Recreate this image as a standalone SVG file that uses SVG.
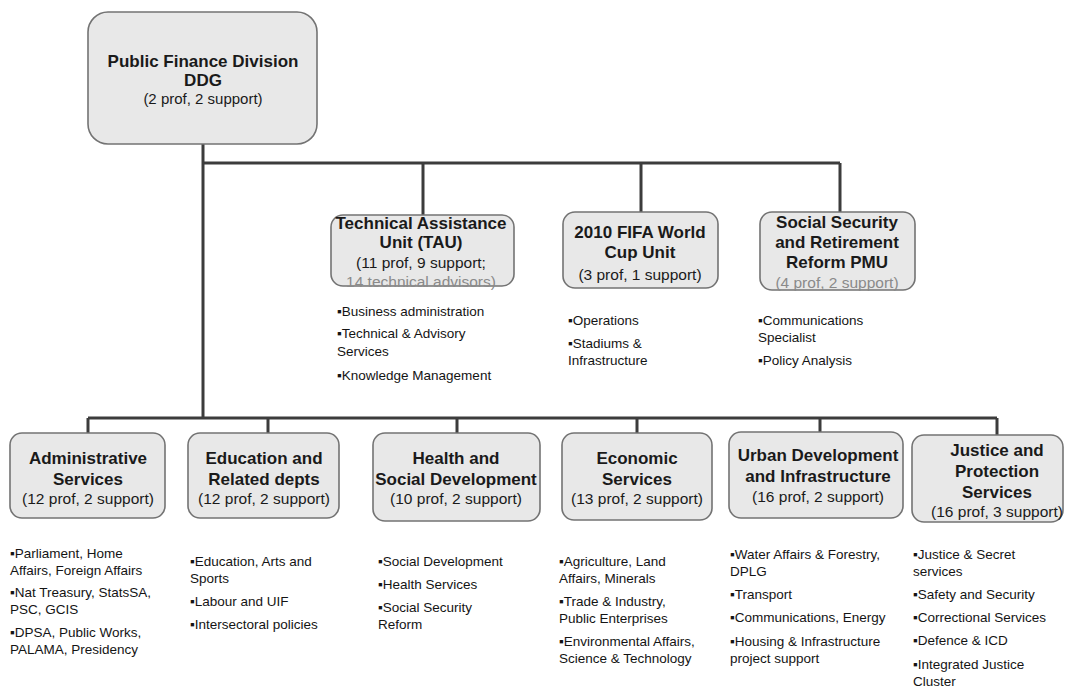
<svg xmlns="http://www.w3.org/2000/svg" width="1065" height="690" viewBox="0 0 1065 690">
<style>
.box{fill:#e8e8e8;stroke:#737373;stroke-width:1.6}
.t{font-family:"Liberation Sans",Arial,sans-serif;font-size:17px;font-weight:bold;fill:#1a1a1a;text-anchor:middle}
.s{font-family:"Liberation Sans",Arial,sans-serif;font-size:15.5px;fill:#1a1a1a;text-anchor:middle}
.g{fill:#8a8a8a}
.b{font-family:"Liberation Sans",Arial,sans-serif;font-size:13.5px;fill:#141414}
.c{fill:none;stroke:#3c3c3c;stroke-width:3}
</style>
<rect width="1065" height="690" fill="#ffffff"/>
<g id="connectors">
<path class="c" d="M203 144V418"/>
<path class="c" d="M203 163H840"/>
<path class="c" d="M423 163V215M641 163V212M840 163V212"/>
<path class="c" d="M88 418H997"/>
<path class="c" d="M88 418V433M268 418V433M457 418V433M637 418V433M820 418V432M997 418V435"/>
</g>
<g id="pfd">
<rect class="box" x="88" y="12" width="229" height="132" rx="20"/>
<text class="t" x="203" y="67">Public Finance Division</text>
<text class="t" x="203" y="86">DDG</text>
<text class="s" x="203" y="104" style="font-size:15px">(2 prof, 2 support)</text>
</g>
<g id="tau">
<rect class="box" x="331" y="215" width="183" height="71" rx="12"/>
<text class="t" x="421" y="229">Technical Assistance</text>
<text class="t" x="421" y="248">Unit (TAU)</text>
<text class="s" x="421" y="268">(11 prof, 9 support;</text>
<text class="s g" x="421" y="287">14 technical advisors)</text>
<text class="b" x="337" y="316">▪Business administration</text>
<text class="b" x="337" y="338">▪Technical &amp; Advisory</text>
<text class="b" x="337" y="356">Services</text>
<text class="b" x="337" y="380">▪Knowledge Management</text>
</g>
<g id="fifa">
<rect class="box" x="563" y="212" width="155" height="76" rx="12"/>
<text class="t" x="640" y="238">2010 FIFA World</text>
<text class="t" x="640" y="258">Cup Unit</text>
<text class="s" x="640" y="280">(3 prof, 1 support)</text>
<text class="b" x="568" y="325">▪Operations</text>
<text class="b" x="568" y="348">▪Stadiums &amp;</text>
<text class="b" x="568" y="365">Infrastructure</text>
</g>
<g id="ssr">
<rect class="box" x="760" y="212" width="155" height="78" rx="12"/>
<text class="t" x="837" y="228">Social Security</text>
<text class="t" x="837" y="248">and Retirement</text>
<text class="t" x="837" y="268">Reform PMU</text>
<text class="s g" x="837" y="288">(4 prof, 2 support)</text>
<text class="b" x="758" y="325">▪Communications</text>
<text class="b" x="758" y="342">Specialist</text>
<text class="b" x="758" y="365">▪Policy Analysis</text>
</g>
<g id="admin">
<rect class="box" x="10" y="433" width="155" height="85" rx="12"/>
<text class="t" x="88" y="464">Administrative</text>
<text class="t" x="88" y="485">Services</text>
<text class="s" x="88" y="504">(12 prof, 2 support)</text>
<text class="b" x="10" y="558">▪Parliament, Home</text>
<text class="b" x="10" y="575">Affairs, Foreign Affairs</text>
<text class="b" x="10" y="597">▪Nat Treasury, StatsSA,</text>
<text class="b" x="10" y="614">PSC, GCIS</text>
<text class="b" x="10" y="637">▪DPSA, Public Works,</text>
<text class="b" x="10" y="654">PALAMA, Presidency</text>
</g>
<g id="edu">
<rect class="box" x="188" y="433" width="151" height="85" rx="12"/>
<text class="t" x="264" y="464">Education and</text>
<text class="t" x="264" y="485">Related depts</text>
<text class="s" x="264" y="504">(12 prof, 2 support)</text>
<text class="b" x="190" y="566">▪Education, Arts and</text>
<text class="b" x="190" y="583">Sports</text>
<text class="b" x="190" y="606">▪Labour and UIF</text>
<text class="b" x="190" y="629">▪Intersectoral policies</text>
</g>
<g id="health">
<rect class="box" x="373" y="433" width="167" height="88" rx="12"/>
<text class="t" x="456" y="464">Health and</text>
<text class="t" x="456" y="485">Social Development</text>
<text class="s" x="456" y="504">(10 prof, 2 support)</text>
<text class="b" x="378" y="566">▪Social Development</text>
<text class="b" x="378" y="589">▪Health Services</text>
<text class="b" x="378" y="612">▪Social Security</text>
<text class="b" x="378" y="629">Reform</text>
</g>
<g id="econ">
<rect class="box" x="562" y="433" width="150" height="87" rx="12"/>
<text class="t" x="637" y="464">Economic</text>
<text class="t" x="637" y="485">Services</text>
<text class="s" x="637" y="504">(13 prof, 2 support)</text>
<text class="b" x="559" y="566">▪Agriculture, Land</text>
<text class="b" x="559" y="583">Affairs, Minerals</text>
<text class="b" x="559" y="606">▪Trade &amp; Industry,</text>
<text class="b" x="559" y="623">Public Enterprises</text>
<text class="b" x="559" y="646">▪Environmental Affairs,</text>
<text class="b" x="559" y="663">Science &amp; Technology</text>
</g>
<g id="urban">
<rect class="box" x="729" y="432" width="174" height="86" rx="12"/>
<text class="t" x="818" y="461">Urban Development</text>
<text class="t" x="818" y="482">and Infrastructure</text>
<text class="s" x="818" y="502">(16 prof, 2 support)</text>
<text class="b" x="730" y="559">▪Water Affairs &amp; Forestry,</text>
<text class="b" x="730" y="576">DPLG</text>
<text class="b" x="730" y="599">▪Transport</text>
<text class="b" x="730" y="622">▪Communications, Energy</text>
<text class="b" x="730" y="646">▪Housing &amp; Infrastructure</text>
<text class="b" x="730" y="663">project support</text>
</g>
<g id="justice">
<rect class="box" x="912" y="435" width="151" height="87" rx="12"/>
<text class="t" x="997" y="456">Justice and</text>
<text class="t" x="997" y="477">Protection</text>
<text class="t" x="997" y="498">Services</text>
<text class="s" x="997" y="517">(16 prof, 3 support)</text>
<text class="b" x="913" y="559">▪Justice &amp; Secret</text>
<text class="b" x="913" y="576">services</text>
<text class="b" x="913" y="599">▪Safety and Security</text>
<text class="b" x="913" y="622">▪Correctional Services</text>
<text class="b" x="913" y="645">▪Defence &amp; ICD</text>
<text class="b" x="913" y="669">▪Integrated Justice</text>
<text class="b" x="913" y="686">Cluster</text>
</g>
</svg>
